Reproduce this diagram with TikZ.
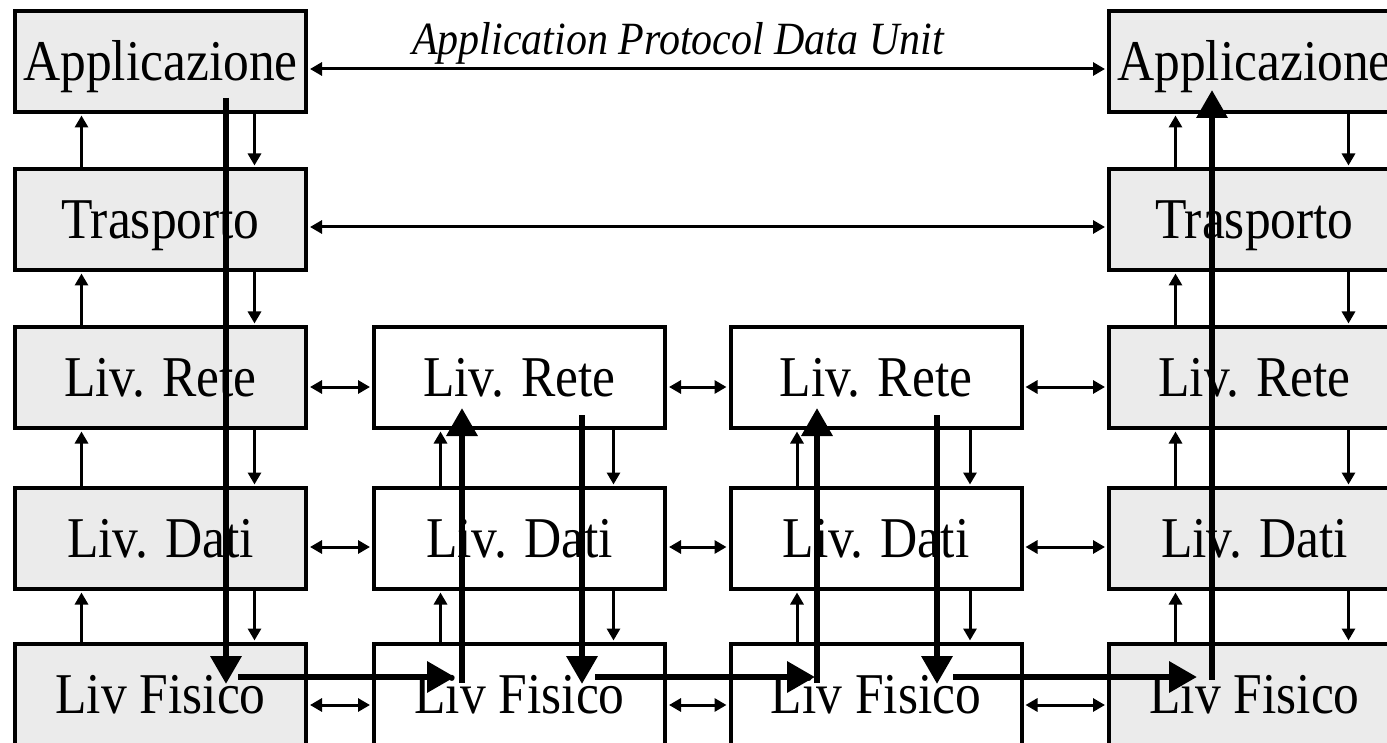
\documentclass[tikz,border=0pt]{standalone}
\usepackage{graphicx}
\usepackage{fontspec}
\setmainfont{Liberation Serif}
\usetikzlibrary{arrows.meta,calc}
\definecolor{boxgray}{HTML}{EBEBEB}
\newcommand{\tallbox}[1]{\scalebox{1}[1.12]{#1}}
\tikzset{
  layer/.style={draw=black, line width=4pt, minimum width=291pt, minimum height=101pt,
    inner sep=0pt, text height=38pt, text depth=0pt, font=\fontsize{51.5}{52}\selectfont},
  endbox/.style={layer, fill=boxgray},
  midbox/.style={layer, fill=white},
  thinarr/.style={line width=3pt, shorten >=1.5pt, -{Triangle[length=12pt,width=13pt]}},
  dblarr/.style={line width=3pt, shorten >=2pt, shorten <=2pt,
    {Triangle[length=12pt,width=13pt]}-{Triangle[length=12pt,width=13pt]}},
  thickarr/.style={line width=6.5pt, -{Triangle[length=28pt,width=30pt]}},
}
\begin{document}
\begin{tikzpicture}[x=1pt,y=-1pt]
\useasboundingbox (0,0) rectangle (1387,743);
\clip (0,0) rectangle (1387,743);
\fill[white] (0,0) rectangle (1387,743);
% column 1
\node[endbox] (a1) at (160.5,61.5)  {\tallbox{Applicazione}};
\node[endbox] (t1) at (160.5,219.5) {\tallbox{Trasporto}};
\node[endbox] (r1) at (160.5,377.5) {\tallbox{Liv. Rete}};
\node[endbox] (d1) at (160.5,538.5) {\tallbox{Liv. Dati}};
\node[endbox] (f1) at (160.5,694.5) {\tallbox{Liv Fisico}};
% column 2
\node[midbox] (r2) at (519.5,377.5) {\tallbox{Liv. Rete}};
\node[midbox] (d2) at (519.5,538.5) {\tallbox{Liv. Dati}};
\node[midbox] (f2) at (519.5,694.5) {\tallbox{Liv Fisico}};
% column 3
\node[midbox] (r3) at (876,377.5) {\tallbox{Liv. Rete}};
\node[midbox] (d3) at (876,538.5) {\tallbox{Liv. Dati}};
\node[midbox] (f3) at (876,694.5) {\tallbox{Liv Fisico}};
% column 4
\node[endbox] (a4) at (1254.5,61.5)  {\tallbox{Applicazione}};
\node[endbox] (t4) at (1254.5,219.5) {\tallbox{Trasporto}};
\node[endbox] (r4) at (1254.5,377.5) {\tallbox{Liv. Rete}};
\node[endbox] (d4) at (1254.5,538.5) {\tallbox{Liv. Dati}};
\node[endbox] (f4) at (1254.5,694.5) {\tallbox{Liv Fisico}};

% label
\node (pdu) [anchor=base, inner sep=0pt, font=\fontsize{42}{44}\selectfont\itshape] at (678,55)
  {\scalebox{1}[1.1]{Application Protocol Data Unit}};

% peer arrows
\draw[dblarr] ([yshift=-7.5pt]a1.east) -- ([yshift=-7.5pt]a4.west);
\draw[dblarr] ([yshift=-7.5pt]t1.east) -- ([yshift=-7.5pt]t4.west);
\foreach \u/\v in {r1/r2, r2/r3, r3/r4}
  \draw[dblarr] ([yshift=-9.5pt]\u.east) -- ([yshift=-9.5pt]\v.west);
\foreach \u/\v in {d1/d2, d2/d3, d3/d4}
  \draw[dblarr] ([yshift=-8.5pt]\u.east) -- ([yshift=-8.5pt]\v.west);
\foreach \u/\v in {f1/f2, f2/f3, f3/f4}
  \draw[dblarr] ([yshift=-10.5pt]\u.east) -- ([yshift=-10.5pt]\v.west);

% vertical service arrows (up on the left, down on the right)
\foreach \lo/\hi in {t1/a1, r1/t1, d1/r1, f1/d1, d2/r2, f2/d2, d3/r3, f3/d3, t4/a4, r4/t4, d4/r4, f4/d4} {
  \draw[thinarr] ([xshift=-79pt]\lo.north) -- ([xshift=-79pt]\hi.south);
  \draw[thinarr] ([xshift=94pt]\hi.south) -- ([xshift=94pt]\lo.north);
}

% thick data path
\coordinate (p1) at (226,98);   \coordinate (p2) at (226,684);
\coordinate (p3) at (238,677);  \coordinate (p4) at (455,677);
\coordinate (p5) at (462,683);  \coordinate (p6) at (462,408);
\coordinate (p7) at (582,415);  \coordinate (p8) at (582,684);
\coordinate (p9) at (595,677);  \coordinate (p10) at (815,677);
\coordinate (p11) at (817,683); \coordinate (p12) at (817,408);
\coordinate (p13) at (937,415); \coordinate (p14) at (937,684);
\coordinate (p15) at (953,677); \coordinate (p16) at (1197,677);
\coordinate (p17) at (1212,680); \coordinate (p18) at (1212,90);
\draw[thickarr] (p1) -- (p2);
\draw[thickarr] (p3) -- (p4);
\draw[thickarr] (p5) -- (p6);
\draw[thickarr] (p7) -- (p8);
\draw[thickarr] (p9) -- (p10);
\draw[thickarr] (p11) -- (p12);
\draw[thickarr] (p13) -- (p14);
\draw[thickarr] (p15) -- (p16);
\draw[thickarr] (p17) -- (p18);
\end{tikzpicture}
\end{document}
